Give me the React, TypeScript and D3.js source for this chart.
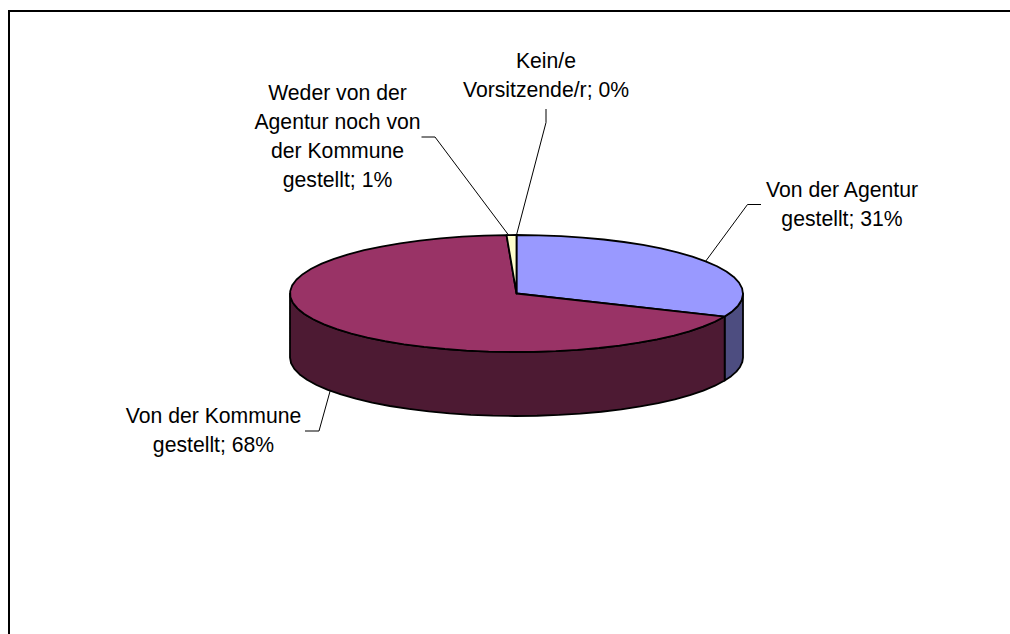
import React from "react";
import * as d3 from "d3";

const categories = [
  ["Von der Agentur", "gestellt"],
  ["Von der Kommune", "gestellt"],
  ["Weder von der", "Agentur noch von", "der Kommune", "gestellt"],
  ["Kein/e", "Vorsitzende/r"],
];
const values = [31.45, 67.85, 0.7, 0];
const topColors = ["#9999FF", "#993366", "#FFFFCC", "#CCFFFF"];
const sideColors = ["#4D4D80", "#4D1A33", "#808066", "#668080"];

const width = 1010;
const height = 634;
const cx = 516.5;
const cy = 293.5;
const rx = 226.5;
const ry = 58.5;
const depth = 64;
const fontSize = 21.2;
const lineStep = 29;

// label layout: centre x, first baseline, elbow points, extra anchor shift
const labelLayout = [
  { x: 842, y: 197, elbow: [[747.5, 204.5], [761, 204.5]], shift: 0 },
  { x: 213.5, y: 422.5, elbow: [[319, 431], [305, 431]], shift: 0 },
  { x: 337.5, y: 100, elbow: [[435, 137], [421.5, 137]], shift: -3 },
  { x: 546, y: 68, elbow: [[546, 122.5], [546, 109]], shift: 0 },
];

const pct = d3.format(".0f");
const pie = d3.pie<number>().sort(null).value((d) => d);
const arcs = pie(values);
const line = d3.line<[number, number]>();
const pt = (a: number, dy = 0): [number, number] => [
  cx + rx * Math.sin(a),
  cy - ry * Math.cos(a) + dy,
];
const samples = (a0: number, a1: number, dy = 0) => {
  const n = Math.max(1, Math.ceil(Math.abs(a1 - a0) / 0.1));
  return d3.range(n + 1).map((i) => pt(a0 + ((a1 - a0) * i) / n, dy));
};

export default function App() {
  const frontStart = Math.PI / 2;
  const frontEnd = (Math.PI * 3) / 2;
  return (
    <svg
      width={width}
      height={height}
      style={{ position: "fixed", left: 0, top: 0, background: "#fff" }}
      fontFamily="'Liberation Sans', Arial, sans-serif"
    >
      <path d={`M9,${height}V11H${width}`} fill="none" stroke="#000" strokeWidth={2} />
      {arcs.map((a, i) => {
        const s = Math.max(a.startAngle, frontStart);
        const e = Math.min(a.endAngle, frontEnd);
        if (e <= s) return null;
        const pts = [...samples(s, e), ...samples(e, s, depth)];
        return (
          <path
            key={`side${i}`}
            d={line(pts) + "Z"}
            fill={sideColors[i]}
            stroke="#000"
            strokeWidth={1.8}
            strokeLinejoin="round"
          />
        );
      })}
      {arcs.map((a, i) =>
        a.endAngle - a.startAngle <= 0 ? null : (
          <path
            key={`top${i}`}
            d={line([[cx, cy], ...samples(a.startAngle, a.endAngle)]) + "Z"}
            fill={topColors[i]}
            stroke="#000"
            strokeWidth={1.8}
            strokeLinejoin="round"
          />
        )
      )}
      {arcs.map((a, i) => {
        const mid = (a.startAngle + a.endAngle) / 2;
        const norm = mid % (2 * Math.PI);
        const onFront = norm > frontStart && norm < frontEnd;
        const [ax, ay] = pt(mid, onFront ? depth : 0);
        const l = labelLayout[i];
        return (
          <path
            key={`leader${i}`}
            d={line([[ax + l.shift, ay], ...(l.elbow as [number, number][])]) ?? ""}
            fill="none"
            stroke="#000"
            strokeWidth={1}
          />
        );
      })}
      {categories.map((lines, i) => {
        const l = labelLayout[i];
        return (
          <text key={`label${i}`} textAnchor="middle" fontSize={fontSize} fill="#000">
            {lines.map((t, j) => (
              <tspan key={j} x={l.x} y={l.y + j * lineStep}>
                {j === lines.length - 1 ? `${t}; ${pct(values[i])}%` : t}
              </tspan>
            ))}
          </text>
        );
      })}
    </svg>
  );
}
